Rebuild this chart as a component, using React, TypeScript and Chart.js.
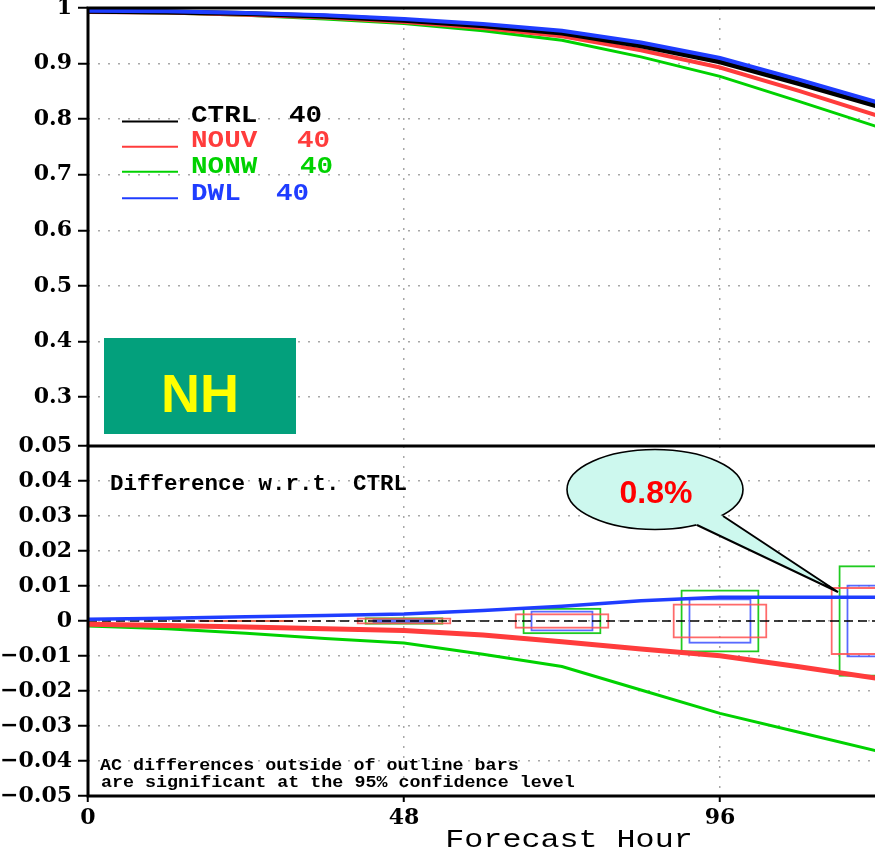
import React, { useEffect, useRef } from 'react';
import { Chart, registerables } from 'chart.js';

Chart.register(...registerables);

// ---------------- data ----------------
const HOURS = [0, 12, 24, 36, 48, 60, 72, 84, 96, 108, 120];

// anomaly correlation (top panel)
const CTRL_AC = [0.994, 0.993, 0.990, 0.985, 0.978, 0.968, 0.955, 0.932, 0.903, 0.864, 0.823];
const NOUV_AC = [0.993, 0.992, 0.988, 0.983, 0.975, 0.964, 0.949, 0.924, 0.893, 0.851, 0.806];
const NONW_AC = [0.993, 0.991, 0.987, 0.980, 0.972, 0.959, 0.942, 0.912, 0.877, 0.832, 0.786];
const DWL_AC = [0.995, 0.994, 0.991, 0.987, 0.980, 0.971, 0.959, 0.938, 0.910, 0.871, 0.830];

// differences w.r.t. CTRL (bottom panel)
const CTRL_DIFF = [0, 0, 0, 0, 0, 0, 0, 0, 0, 0, 0];
const NOUV_DIFF = [-0.0009, -0.0013, -0.0017, -0.0022, -0.0027, -0.0040, -0.0059, -0.0080, -0.0099, -0.0131, -0.0164];
const NONW_DIFF = [-0.0014, -0.0022, -0.0035, -0.0050, -0.0063, -0.0095, -0.0130, -0.0197, -0.0264, -0.0318, -0.0372];
const DWL_DIFF = [0.0005, 0.0008, 0.0012, 0.0016, 0.0020, 0.0030, 0.0042, 0.0058, 0.0068, 0.0068, 0.0068];

// significance outline bars (half-width of 95% interval)
const SIG_HOURS = [24, 48, 72, 96, 120];
const NOUV_SIG = [0.0003, 0.0010, 0.0022, 0.0050, 0.0097];
const NONW_SIG = [0.0003, 0.0011, 0.0038, 0.0090, 0.0159];
const DWL_SIG = [0.0002, 0.0006, 0.0030, 0.0065, 0.0104];

// ticks
const X_TICKS = [0, 48, 96];
const X_TICK_LABELS = ['0', '48', '96'];
const TOP_TICKS = [0.3, 0.4, 0.5, 0.6, 0.7, 0.8, 0.9, 1];
const TOP_TICK_LABELS = ['0.3', '0.4', '0.5', '0.6', '0.7', '0.8', '0.9', '1'];
const BOT_TICKS = [-0.05, -0.04, -0.03, -0.02, -0.01, 0, 0.01, 0.02, 0.03, 0.04, 0.05];
const BOT_TICK_LABELS = ['\u22120.05', '\u22120.04', '\u22120.03', '\u22120.02', '\u22120.01', '0', '0.01', '0.02', '0.03', '0.04', '0.05'];

// texts
const SERIES_NAMES = ['CTRL', 'NOUV', 'NONW', 'DWL'];
const SERIES_CASES = [40, 40, 40, 40];
const PANEL_LABEL = 'NH';
const DIFF_TITLE = 'Difference w.r.t. CTRL';
const NOTE_LINES = ['AC differences outside of outline bars', 'are significant at the 95% confidence level'];
const CALLOUT_TEXT = '0.8%';
const X_TITLE = 'Forecast Hour';

// ---------------- layout / style ----------------
const W = 875;
const H = 853;
const TOP_CANVAS_Y = -20;
const TOP_CANVAS_H = 466;
const BOT_CANVAS_Y = 426;
const BOT_CANVAS_H = 427;
const BOT_AXIS_H = 57;
const AXIS_W = 88;
const X_MAX = 119.55;
const TOP_MIN = 0.2118;

const SERIES_COLORS = ['#000000', '#ff3c3c', '#00d200', '#1f3dff'];
const BOX_COLORS = ['rgba(255,80,80,0.85)', 'rgba(20,200,20,0.95)', 'rgba(70,90,255,0.9)'];
const GRID_COLOR = '#a8a8a8';
const GRID_DASH = [2, 8];
const TICK_FONT = { family: "'DejaVu Serif'", weight: 'bold' as const, size: 22 };
const MONO = '"Liberation Mono", monospace';

const LEGEND_LINE_Y = [121.5, 146.7, 171.7, 198.3];
const LEGEND_BASE_Y = [122, 147, 173, 200];
const LEGEND_NUM_X = [289, 297, 300, 276];

function pts(xs: number[], ys: number[]) {
  return xs.map((x, i) => ({ x, y: ys[i] }));
}
function boxes(xs: number[], half: number[]) {
  return xs.map((x, i) => ({ x, y: [-half[i], half[i]] }));
}
function labelFor(ticks: number[], labels: string[], v: number) {
  let best = 0;
  ticks.forEach((t, i) => {
    if (Math.abs(t - v) < Math.abs(ticks[best] - v)) best = i;
  });
  return labels[best];
}
function txt(ctx: CanvasRenderingContext2D, s: string, x: number, y: number, font: string, color: string, sx = 1, align: CanvasTextAlign = 'left') {
  ctx.save();
  ctx.font = font;
  ctx.fillStyle = color;
  ctx.textBaseline = 'alphabetic';
  ctx.textAlign = align;
  ctx.translate(x, y);
  ctx.scale(sx, 1);
  ctx.fillText(s, 0, 0);
  ctx.restore();
}

const topDecor = {
  id: 'topDecor',
  afterDraw(chart: any) {
    const { ctx, chartArea: a } = chart;
    const oy = TOP_CANVAS_Y;
    ctx.save();
    ctx.setLineDash([]);
    ctx.strokeStyle = '#000';
    ctx.lineWidth = 3;
    ctx.beginPath();
    ctx.moveTo(a.left, a.bottom);
    ctx.lineTo(a.left, a.top);
    ctx.lineTo(a.right, a.top);
    ctx.stroke();

    SERIES_NAMES.forEach((name, i) => {
      const col = SERIES_COLORS[i];
      ctx.strokeStyle = col;
      ctx.lineWidth = 2;
      ctx.beginPath();
      ctx.moveTo(122, LEGEND_LINE_Y[i] - oy);
      ctx.lineTo(178, LEGEND_LINE_Y[i] - oy);
      ctx.stroke();
      txt(ctx, name, 191, LEGEND_BASE_Y[i] - oy, `bold 24px ${MONO}`, col, 1.15);
      txt(ctx, String(SERIES_CASES[i]), LEGEND_NUM_X[i], LEGEND_BASE_Y[i] - oy, `bold 24px ${MONO}`, col, 1.15);
    });

    ctx.fillStyle = '#03a07c';
    ctx.fillRect(104, 338 - oy, 192, 96);
    txt(ctx, PANEL_LABEL, 200, 411.5 - oy, 'bold 54px "Liberation Sans", Arial, sans-serif', '#ffff00', 1, 'center');
    ctx.restore();
  },
};

const botDecor = {
  id: 'botDecor',
  afterDraw(chart: any) {
    const { ctx, chartArea: a } = chart;
    const oy = BOT_CANVAS_Y;
    ctx.save();
    ctx.setLineDash([]);
    ctx.strokeStyle = '#000';
    ctx.lineWidth = 3;
    ctx.beginPath();
    ctx.moveTo(a.right, a.top);
    ctx.lineTo(a.left, a.top);
    ctx.lineTo(a.left, a.bottom);
    ctx.lineTo(a.right, a.bottom);
    ctx.stroke();

    txt(ctx, DIFF_TITLE, 110, 490 - oy, `bold 22.5px ${MONO}`, '#000', 1.0);
    txt(ctx, NOTE_LINES[0], 100, 770 - oy, `bold 17px ${MONO}`, '#000', 1.08);
    txt(ctx, NOTE_LINES[1], 101, 787 - oy, `bold 17px ${MONO}`, '#000', 1.08);

    // callout
    const cx = 655, cy = 489.5 - oy, rx = 88, ry = 40;
    const b1 = [697, 525 - oy], b2 = [723, 516 - oy], tip = [838, 592 - oy];
    const fill = '#cdf8ee';
    ctx.fillStyle = fill;
    ctx.strokeStyle = '#000';
    ctx.lineWidth = 1.6;
    ctx.beginPath();
    ctx.ellipse(cx, cy, rx, ry, 0, 0, Math.PI * 2);
    ctx.fill();
    ctx.stroke();
    const inward = (p: number[]) => {
      const dx = cx - p[0], dy = cy - p[1];
      const d = Math.hypot(dx, dy);
      return [p[0] + (dx / d) * 5, p[1] + (dy / d) * 5];
    };
    const i1 = inward(b1), i2 = inward(b2);
    ctx.beginPath();
    ctx.moveTo(i1[0], i1[1]);
    ctx.lineTo(b1[0], b1[1]);
    ctx.lineTo(tip[0], tip[1]);
    ctx.lineTo(b2[0], b2[1]);
    ctx.lineTo(i2[0], i2[1]);
    ctx.closePath();
    ctx.fill();
    ctx.beginPath();
    ctx.moveTo(b1[0], b1[1]);
    ctx.lineTo(tip[0], tip[1]);
    ctx.lineTo(b2[0], b2[1]);
    ctx.lineWidth = 2;
    ctx.stroke();
    txt(ctx, CALLOUT_TEXT, 656, 502.7 - oy, 'bold 32px "Liberation Sans", Arial, sans-serif', '#ff0000', 1, 'center');

    txt(ctx, X_TITLE, 569, 847.3 - oy, `26px ${MONO}`, '#000', 1.22, 'center');
    ctx.restore();
  },
};

function baseX(showTicks: boolean): any {
  return {
    type: 'linear',
    min: 0,
    max: X_MAX,
    offset: false,
    afterBuildTicks: (s: any) => {
      s.ticks = X_TICKS.map((v) => ({ value: v }));
    },
    ticks: {
      display: showTicks,
      autoSkip: false,
      maxRotation: 0,
      padding: 3,
      color: '#000',
      font: TICK_FONT,
      callback: (v: number) => labelFor(X_TICKS, X_TICK_LABELS, v),
    },
    grid: {
      offset: false,
      color: GRID_COLOR,
      lineWidth: 1.5,
      drawTicks: showTicks,
      tickLength: 6,
      tickColor: '#000',
      tickWidth: 2,
    },
    border: { display: false, dash: GRID_DASH },
    afterFit: (s: any) => {
      s.height = showTicks ? BOT_AXIS_H : 0;
      s.paddingLeft = 0;
      s.paddingRight = 0;
    },
  };
}

function baseY(min: number, max: number, ticks: number[], labels: string[]): any {
  return {
    type: 'linear',
    min,
    max,
    afterBuildTicks: (s: any) => {
      s.ticks = ticks.map((v) => ({ value: v }));
    },
    ticks: {
      autoSkip: false,
      padding: 6,
      color: '#000',
      font: TICK_FONT,
      callback: (v: number) => labelFor(ticks, labels, v),
    },
    grid: {
      offset: false,
      color: GRID_COLOR,
      lineWidth: 1.5,
      tickLength: 10,
      tickColor: '#000',
      tickWidth: 2,
    },
    border: { display: false, dash: GRID_DASH },
    afterFit: (s: any) => {
      s.width = AXIS_W;
      s.paddingTop = 0;
      s.paddingBottom = 0;
    },
  };
}

const lineDs = (label: string, data: any[], color: string, width: number, order: number, extra: any = {}) => ({
  type: 'line',
  label,
  data,
  borderColor: color,
  backgroundColor: color,
  borderWidth: width,
  pointRadius: 0,
  tension: 0,
  fill: false,
  order,
  ...extra,
});

const boxDs = (label: string, data: any[], color: string, pct: number, order: number) => ({
  type: 'bar',
  label,
  data,
  backgroundColor: 'rgba(0,0,0,0)',
  borderColor: color,
  borderWidth: 2,
  borderSkipped: false,
  grouped: false,
  categoryPercentage: 1,
  barPercentage: pct,
  order,
});

export default function App() {
  const topRef = useRef<HTMLCanvasElement>(null);
  const botRef = useRef<HTMLCanvasElement>(null);

  useEffect(() => {
    const top = new Chart(topRef.current as HTMLCanvasElement, {
      type: 'line',
      data: {
        datasets: [
          lineDs('DWL', pts(HOURS, DWL_AC), SERIES_COLORS[3], 4, 0),
          lineDs('CTRL', pts(HOURS, CTRL_AC), SERIES_COLORS[0], 5, 1),
          lineDs('NOUV', pts(HOURS, NOUV_AC), SERIES_COLORS[1], 4, 2),
          lineDs('NONW', pts(HOURS, NONW_AC), SERIES_COLORS[2], 3, 3),
        ] as any,
      },
      options: {
        animation: false,
        responsive: false,
        maintainAspectRatio: false,
        layout: { padding: { top: 28, left: 0, right: 0, bottom: 0 } },
        plugins: { legend: { display: false }, tooltip: { enabled: false } },
        scales: {
          x: baseX(false),
          y: baseY(TOP_MIN, 1, TOP_TICKS, TOP_TICK_LABELS),
        },
      } as any,
      plugins: [topDecor],
    });

    const bot = new Chart(botRef.current as HTMLCanvasElement, {
      type: 'line',
      data: {
        datasets: [
          lineDs('DWL', pts(HOURS, DWL_DIFF), SERIES_COLORS[3], 3.5, 0),
          lineDs('NOUV', pts(HOURS, NOUV_DIFF), SERIES_COLORS[1], 5, 1),
          lineDs('NONW', pts(HOURS, NONW_DIFF), SERIES_COLORS[2], 3, 2),
          lineDs('CTRL', pts(HOURS, CTRL_DIFF), '#000000', 1.6, 3, { borderDash: [9, 5] }),
          boxDs('NOUV sig', boxes(SIG_HOURS, NOUV_SIG), BOX_COLORS[0], 0.6, 4),
          boxDs('NONW sig', boxes(SIG_HOURS, NONW_SIG), BOX_COLORS[1], 0.5, 5),
          boxDs('DWL sig', boxes(SIG_HOURS, DWL_SIG), BOX_COLORS[2], 0.4, 6),
        ] as any,
      },
      options: {
        animation: false,
        responsive: false,
        maintainAspectRatio: false,
        layout: { padding: { top: 20, left: 0, right: 0, bottom: 0 } },
        plugins: { legend: { display: false }, tooltip: { enabled: false } },
        scales: {
          x: baseX(true),
          y: baseY(-0.05, 0.05, BOT_TICKS, BOT_TICK_LABELS),
        },
      } as any,
      plugins: [botDecor],
    });

    return () => {
      top.destroy();
      bot.destroy();
    };
  }, []);

  return (
    <div style={{ position: 'absolute', left: 0, top: 0, width: W, height: H, overflow: 'hidden', background: '#fff' }}>
      <canvas ref={topRef} width={W} height={TOP_CANVAS_H} style={{ position: 'absolute', left: 0, top: TOP_CANVAS_Y, width: W, height: TOP_CANVAS_H }} />
      <canvas ref={botRef} width={W} height={BOT_CANVAS_H} style={{ position: 'absolute', left: 0, top: BOT_CANVAS_Y, width: W, height: BOT_CANVAS_H }} />
    </div>
  );
}
